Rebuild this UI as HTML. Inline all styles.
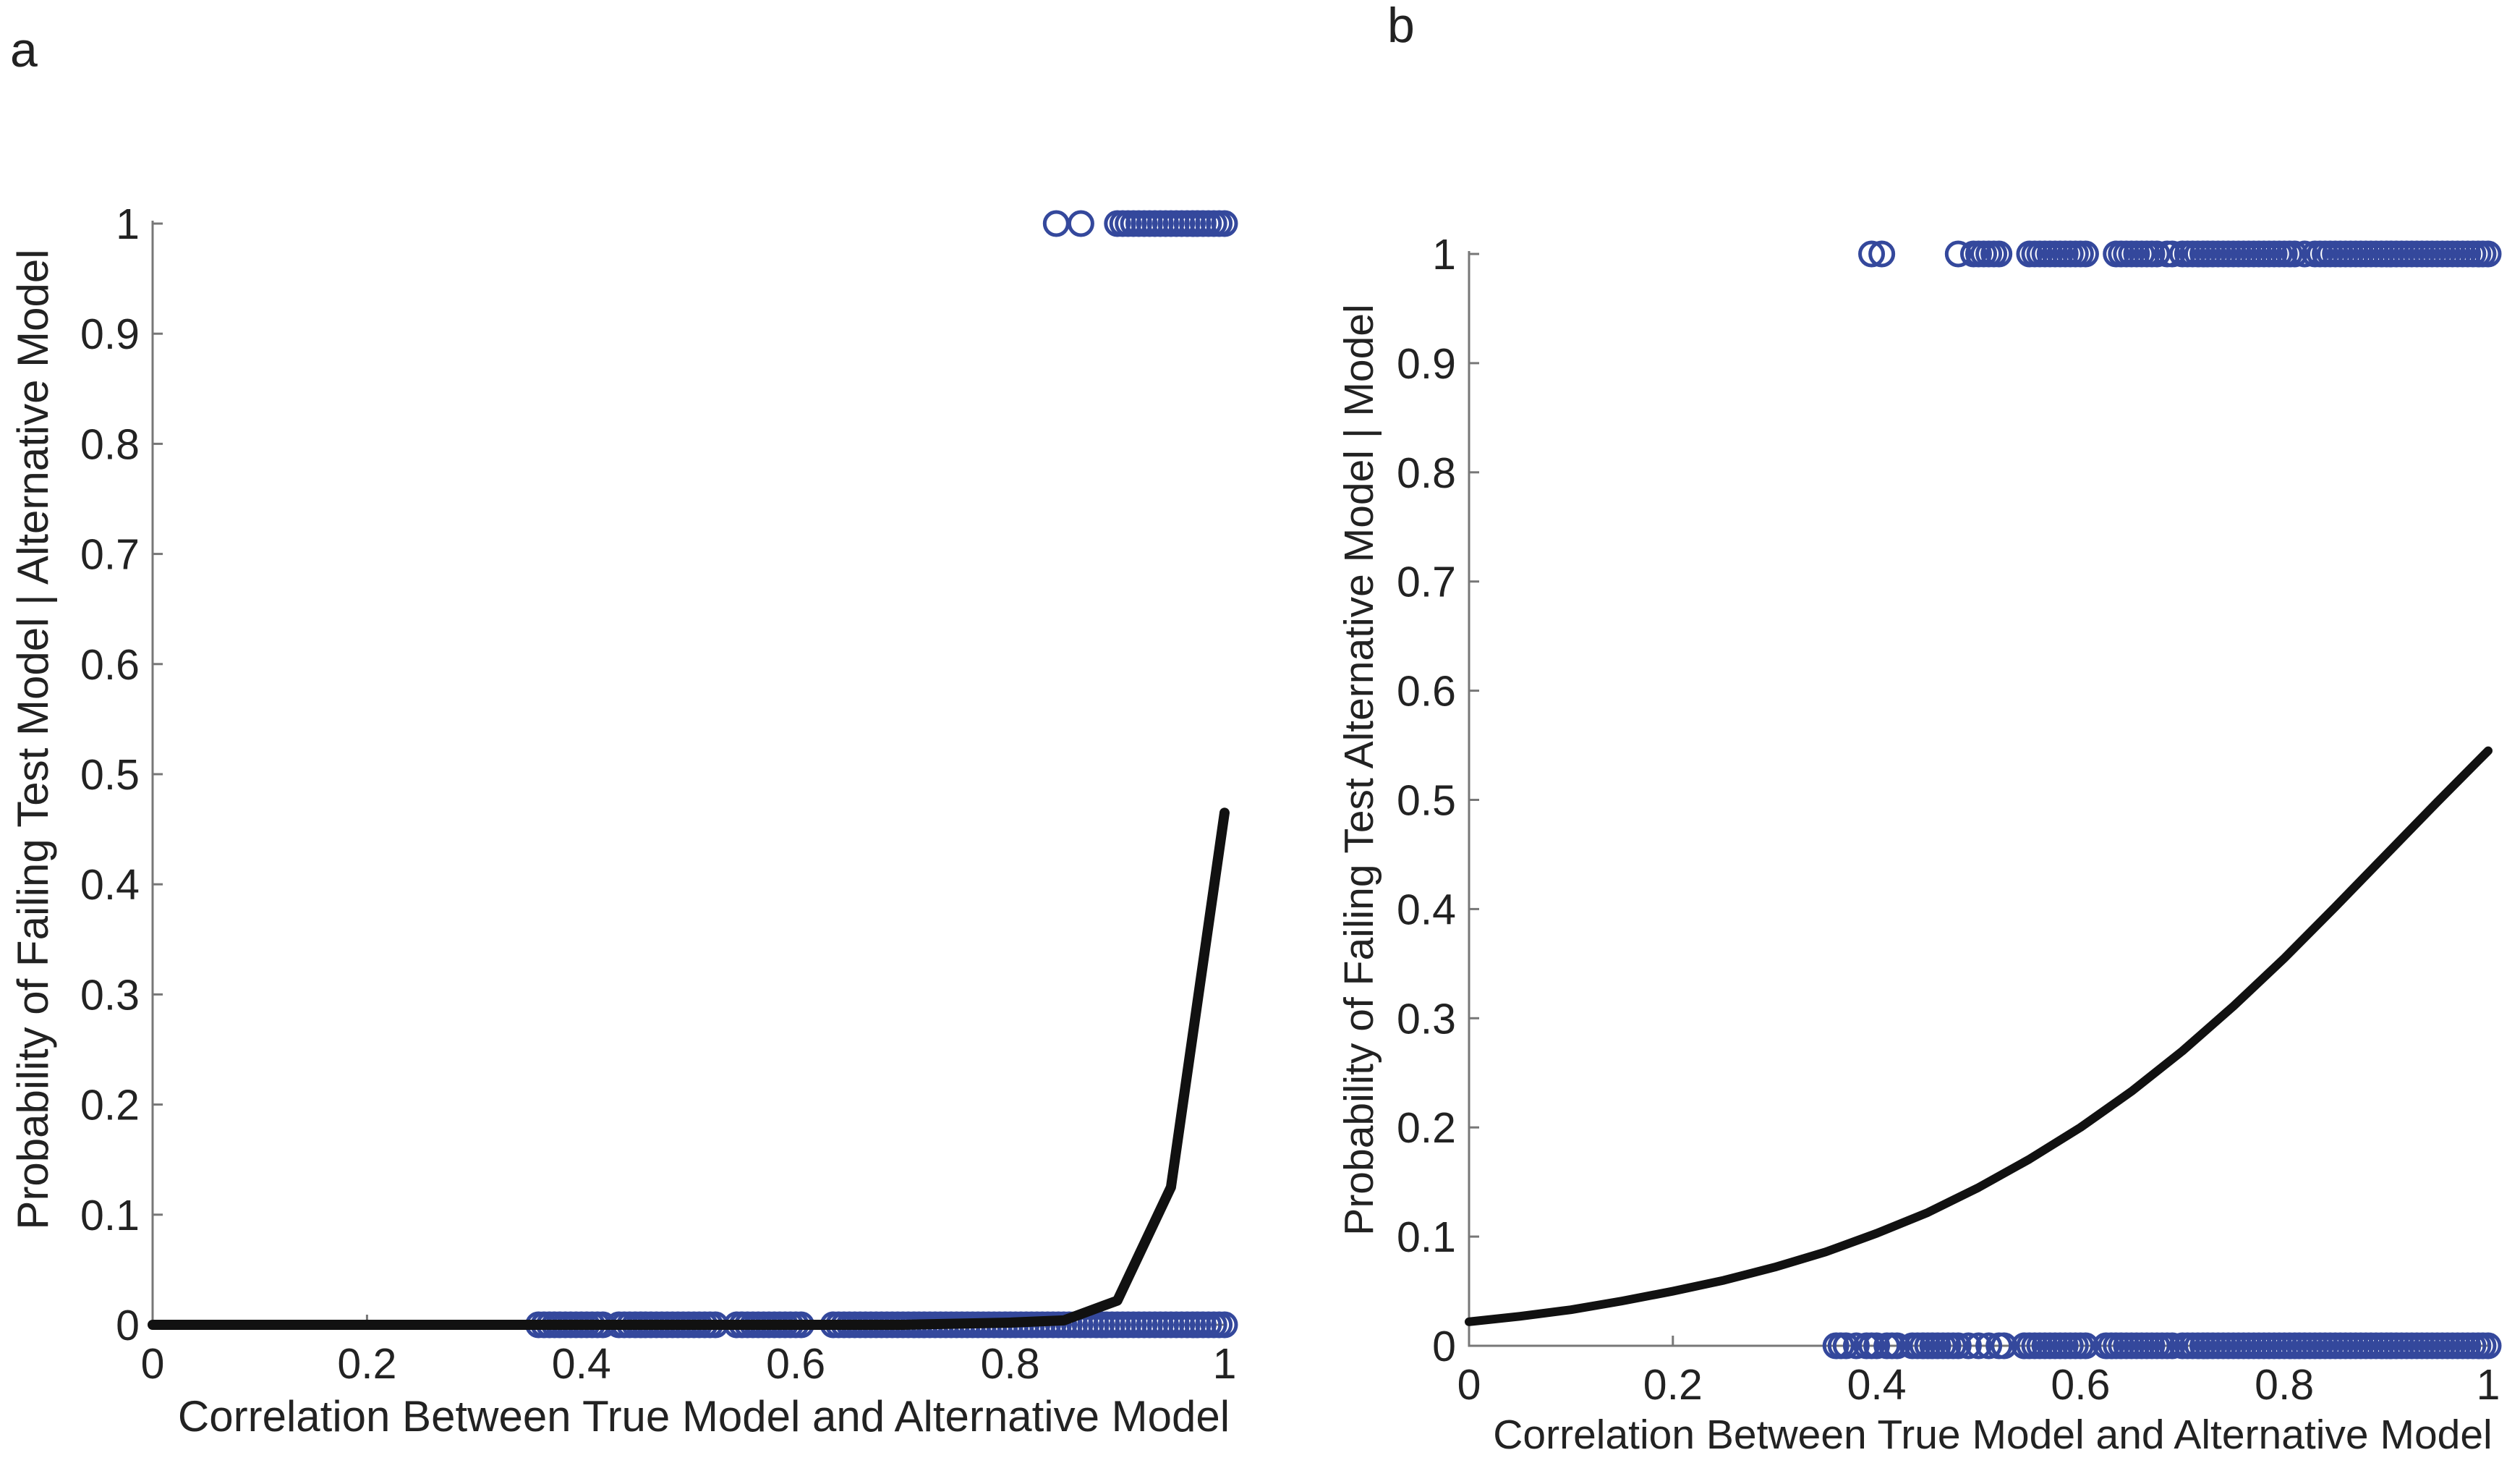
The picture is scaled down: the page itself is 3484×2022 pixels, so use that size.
<!DOCTYPE html>
<html><head><meta charset="utf-8">
<style>
html,body{margin:0;padding:0;background:#fff;}
svg{display:block;}
text{font-family:"Liberation Sans",Arial,sans-serif;fill:#222;}
</style></head>
<body>
<svg id="fig" width="3484" height="2022" viewBox="0 0 3484 2022" xmlns="http://www.w3.org/2000/svg">
<text x="14" y="92" font-size="68">a</text>
<text x="1918" y="58" font-size="68">b</text>
<g id="pa"></g>
<g id="pb"></g>
</svg>
<script>
// ---- data ----
const tickVals = [0,0.1,0.2,0.3,0.4,0.5,0.6,0.7,0.8,0.9,1];
const tickLabels = ["0","0.1","0.2","0.3","0.4","0.5","0.6","0.7","0.8","0.9","1"];
const xTickVals = [0,0.2,0.4,0.6,0.8,1];
const xTickLabels = ["0","0.2","0.4","0.6","0.8","1"];

const curveAx = [0,0.1,0.2,0.3,0.4,0.5,0.6,0.7,0.8,0.85,0.9,0.95,1.0];
const curveAy = [0,0,0,0,0,0,0,0,0.002,0.004,0.022,0.125,0.465];
const curveBx = [0,0.05,0.1,0.15,0.2,0.25,0.3,0.35,0.4,0.45,0.5,0.55,0.6,0.65,0.7,0.75,0.8,0.85,0.9,0.95,1.0];
const curveBy = [0.022,0.027,0.033,0.041,0.05,0.06,0.072,0.086,0.103,0.122,0.145,0.171,0.2,0.233,0.27,0.311,0.355,0.402,0.45,0.498,0.545];

const aTop = [0.843,0.866,0.9,0.905,0.91,0.915,0.92,0.925,0.93,0.935,0.94,0.945,0.95,0.955,0.96,0.965,0.97,0.975,0.98,0.985,0.99,0.995,1.0];
const aBottom = [0.36,0.365,0.37,0.375,0.38,0.385,0.39,0.395,0.40,0.405,0.41,0.415,0.42,0.435,0.44,0.445,0.45,0.455,0.46,0.465,0.47,0.475,0.48,0.485,0.49,0.495,0.50,0.505,0.51,0.515,0.52,0.525,0.545,0.55,0.555,0.56,0.565,0.57,0.575,0.58,0.585,0.59,0.595,0.60,0.605,0.635,0.64,0.645,0.65,0.655,0.66,0.665,0.67,0.675,0.68,0.685,0.69,0.695,0.70,0.705,0.71,0.715,0.72,0.725,0.73,0.735,0.74,0.745,0.75,0.755,0.76,0.765,0.77,0.775,0.78,0.785,0.79,0.795,0.80,0.805,0.81,0.815,0.82,0.825,0.83,0.835,0.84,0.845,0.85,0.855,0.86,0.865,0.87,0.875,0.88,0.885,0.89,0.895,0.90,0.905,0.91,0.915,0.92,0.925,0.93,0.935,0.94,0.945,0.95,0.955,0.96,0.965,0.97,0.975,0.98,0.985,0.99,0.995,1.0];
const bTop = [0.395,0.405,0.48,0.495,0.50,0.505,0.51,0.515,0.52,0.55,0.555,0.56,0.565,0.57,0.575,0.58,0.585,0.59,0.595,0.60,0.605,0.635,0.64,0.645,0.65,0.655,0.66,0.665,0.67,0.675,0.685,0.69,0.70,0.705,0.71,0.715,0.72,0.725,0.73,0.735,0.74,0.745,0.75,0.755,0.76,0.765,0.77,0.775,0.78,0.785,0.79,0.795,0.80,0.805,0.81,0.82,0.83,0.835,0.84,0.845,0.85,0.855,0.86,0.865,0.87,0.875,0.88,0.885,0.89,0.895,0.90,0.905,0.91,0.915,0.92,0.925,0.93,0.935,0.94,0.945,0.95,0.955,0.96,0.965,0.97,0.975,0.98,0.985,0.99,0.995,1.0];
const bBottom = [0.36,0.365,0.37,0.38,0.39,0.395,0.40,0.41,0.415,0.42,0.435,0.44,0.445,0.45,0.455,0.46,0.465,0.47,0.475,0.48,0.49,0.50,0.51,0.52,0.525,0.545,0.55,0.555,0.56,0.565,0.57,0.575,0.58,0.585,0.59,0.595,0.60,0.605,0.625,0.63,0.635,0.64,0.645,0.65,0.655,0.66,0.665,0.67,0.675,0.68,0.685,0.69,0.70,0.705,0.71,0.715,0.72,0.725,0.73,0.735,0.74,0.745,0.75,0.755,0.76,0.765,0.77,0.775,0.78,0.785,0.79,0.795,0.80,0.805,0.81,0.815,0.82,0.825,0.83,0.835,0.84,0.845,0.85,0.855,0.86,0.865,0.87,0.875,0.88,0.885,0.89,0.895,0.90,0.905,0.91,0.915,0.92,0.925,0.93,0.935,0.94,0.945,0.95,0.955,0.96,0.965,0.97,0.975,0.98,0.985,0.99,0.995,1.0];

const NS = "http://www.w3.org/2000/svg";
function mk(parent, tag, attrs){
  const e = document.createElementNS(NS, tag);
  for (const k in attrs) e.setAttribute(k, attrs[k]);
  parent.appendChild(e);
  return e;
}
function drawPanel(g, cfg, cx, cy, top, bottom, lw, prefix){
  const X = v => cfg.x0 + (cfg.x1 - cfg.x0) * v;
  const Y = v => cfg.y0 + (cfg.y1 - cfg.y0) * v;
  const ax = mk(g, "path", {d:`M${X(0)},${Y(1)-4} L${X(0)},${Y(0)} L${X(1)},${Y(0)}`, fill:"none", stroke:"#777", "stroke-width":3});
  
  
  tickVals.forEach((v,i)=>{
    const t = mk(g,"line",{x1:X(0),x2:X(0)+14,y1:Y(v),y2:Y(v),stroke:"#777","stroke-width":3});
    
    
    const tx = mk(g,"text",{x:X(0)-18,y:Y(v)+21,"font-size":59,"text-anchor":"end"});
    tx.textContent = tickLabels[i];
    
    
  });
  xTickVals.forEach((v,i)=>{
    const t = mk(g,"line",{x1:X(v),x2:X(v),y1:Y(0),y2:Y(0)-14,stroke:"#777","stroke-width":3});
    
    
    const tx = mk(g,"text",{x:X(v),y:Y(0)+74,"font-size":59,"text-anchor":"middle"});
    tx.textContent = xTickLabels[i];
    
    
  });
  const xl = mk(g,"text",{x:cfg.xlx,y:cfg.xly,"font-size":cfg.fs,"text-anchor":"middle"});
  xl.textContent = "Correlation Between True Model and Alternative Model";
  
  
  const yl = mk(g,"text",{x:0,y:0,"font-size":cfg.fs,"text-anchor":"middle",transform:`translate(${cfg.ylx},${cfg.yly}) rotate(-90)`});
  yl.textContent = cfg.ytitle;
  
  
  top.forEach(v=>{
    const c = mk(g,"circle",{cx:X(v),cy:Y(1),r:16,fill:"none",stroke:"#34489c","stroke-width":5});
    
    
  });
  bottom.forEach(v=>{
    const c = mk(g,"circle",{cx:X(v),cy:Y(0),r:16,fill:"none",stroke:"#34489c","stroke-width":5});
    
    
  });
  const d = cx.map((v,i)=>(i?'L':'M')+X(v)+','+Y(cy[i])).join(' ');
  const p = mk(g,"path",{d:d,fill:"none",stroke:"#111","stroke-width":lw,"stroke-linejoin":"round","stroke-linecap":"round"});
  
  
}
drawPanel(document.getElementById('pa'),
  {x0:211,x1:1693,y0:1831,y1:309,xlx:973,xly:1978,ylx:66,yly:1022,fs:60,ytitle:"Probability of Failing Test Model | Alternative Model"},
  curveAx, curveAy, aTop, aBottom, 14, 'panel-a');
drawPanel(document.getElementById('pb'),
  {x0:2031,x1:3440,y0:1860,y1:351,xlx:2755,xly:2002,ylx:1898,yly:1064,fs:57,ytitle:"Probability of Failing Test Alternative Model | Model"},
  curveBx, curveBy, bTop, bBottom, 12, 'panel-b');
</script>
</body></html>
